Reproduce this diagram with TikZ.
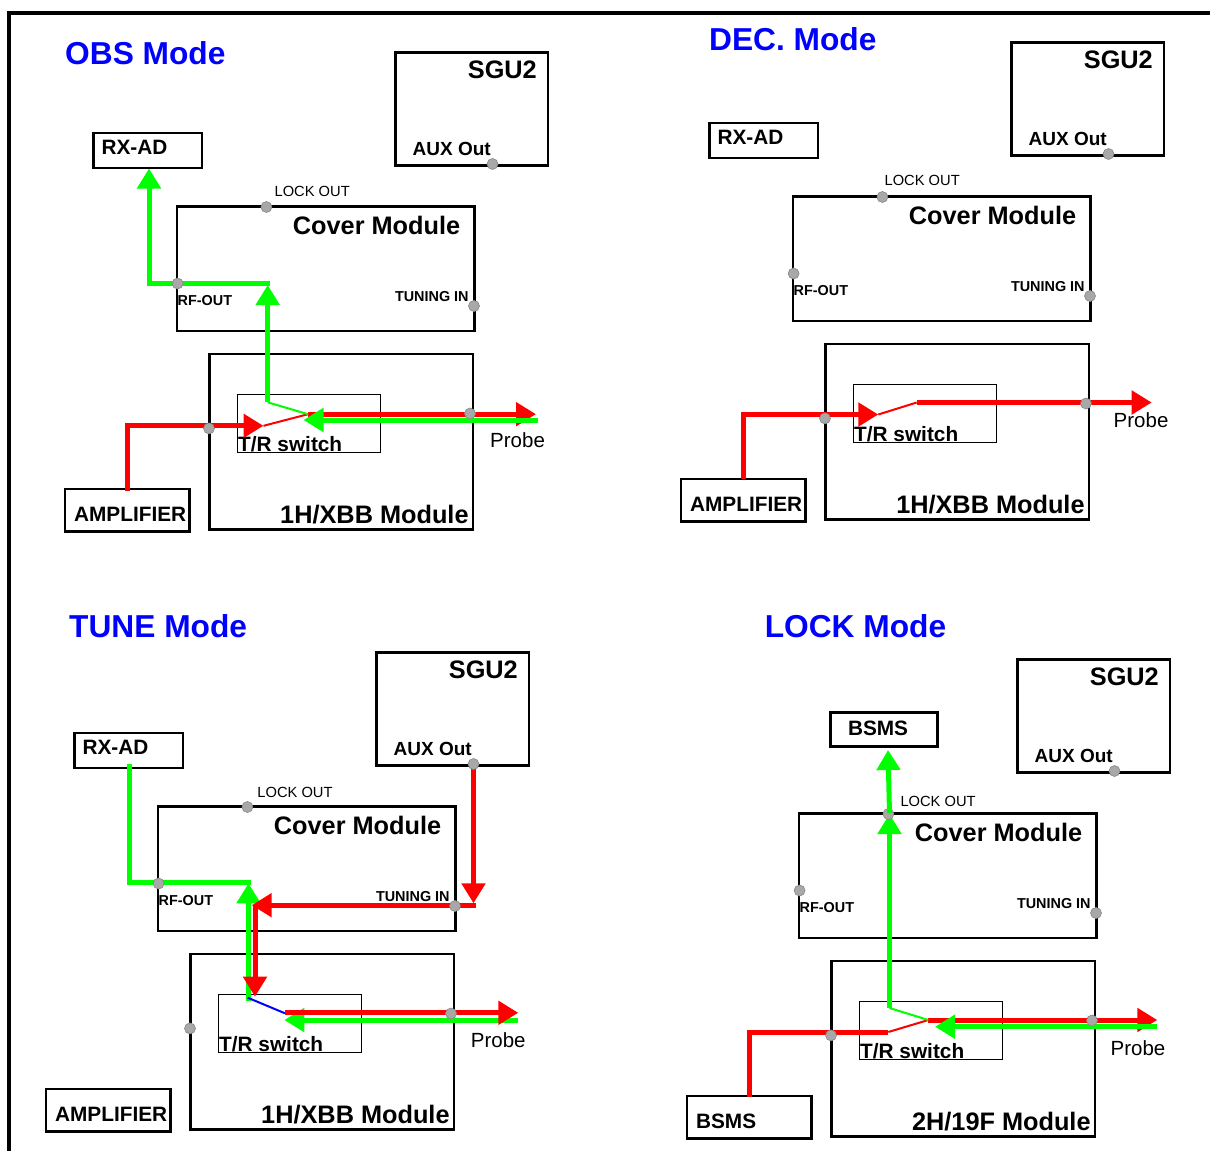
\documentclass[tikz,border=0pt]{standalone}
\usepackage{fontspec}
\setmainfont{Liberation Sans}
\usetikzlibrary{arrows.meta}
\definecolor{dotgray}{RGB}{168,168,168}
\definecolor{dotedge}{RGB}{135,135,135}
\definecolor{ttlblue}{RGB}{0,0,255}
\definecolor{lgreen}{RGB}{0,255,0}
\definecolor{lred}{RGB}{255,0,0}
\definecolor{lblue}{RGB}{0,0,255}

% box by corners: name, x1, y1, x2, y2, style
\newcommand\boxat[6]{%
  \node[#6, minimum width={(#4)-(#2)}, minimum height={(#5)-(#3)}] (#1)
    at ({((#2)+(#4))/2},{((#3)+(#5))/2}) {};}

% common parts of one quadrant (in OBS coordinates)
% #1 prefix, #2 module label, #3 probe label position, #4 lock-out label position
\newcommand\quadbase[4]{%
  \boxat{#1sgu}{395.5}{52.5}{548}{165.5}{boxst}
  \node[big, anchor=base east] (#1sgut) at (537,78) {SGU2};
  \node[auxt, anchor=base west] (#1auxt) at (412.5,155) {AUX Out};
  \boxat{#1cov}{177}{206.5}{474.5}{331}{boxst}
  \node[smr, anchor=base west] (#1lockt) at #4 {LOCK OUT};
  \node[big, anchor=base east] (#1covt) at (460.4,234.5) {Cover Module};
  \node[smb, anchor=base west] (#1rft) at (177.5,305.5) {RF-OUT};
  \node[smb, anchor=base east] (#1tunt) at (468.8,301) {TUNING IN};
  \boxat{#1mod}{209.3}{354}{473}{529.5}{boxst}
  \node[big, anchor=base east] (#1modt) at (468.8,523) {#2};
  \boxat{#1tr}{237.3}{394.5}{380.4}{452.4}{thinbox}
  \node[mid, anchor=base west] (#1trt) at (238,451.6) {T/R switch};
  \node[prb, anchor=base west] (#1prt) at #3 {Probe};
}
\newcommand\quadleft[1]{%
  \boxat{#1rx}{93.8}{133}{202}{168}{boxst}
  \node[mid, anchor=base west] (#1rxt) at (101.4,154.5) {RX-AD};
  \boxat{#1amp}{65}{489}{189.8}{531.6}{boxst}
  \node[mid, anchor=base west] (#1ampt) at (73.9,521.8) {AMPLIFIER};
}
\newcommand\quaddots[1]{%
  \node[dotst] (#1d-aux) at (492.5,164) {};
  \node[dotst] (#1d-lock) at (266.4,207) {};
  \node[dotst] (#1d-rf) at (177.6,283.5) {};
  \node[dotst] (#1d-tun) at (474,306) {};
  \node[dotst] (#1d-amp) at (209,428.4) {};
  \node[dotst] (#1d-prb) at (470,413.5) {};
}

\begin{document}
\begin{tikzpicture}[x=1pt,y=-1pt,
  boxst/.style={draw=black, line width=2.8pt, inner sep=0pt, outer sep=0pt},
  thinbox/.style={draw=black, line width=1pt, inner sep=0pt, outer sep=0pt},
  ttl/.style={inner sep=0pt, text=ttlblue, font=\fontsize{31.7}{36}\selectfont\bfseries},
  big/.style={inner sep=0pt, font=\fontsize{25.3}{30}\selectfont\bfseries},
  mid/.style={inner sep=0pt, font=\fontsize{20.8}{24}\selectfont\bfseries},
  auxt/.style={inner sep=0pt, font=\fontsize{19}{22}\selectfont\bfseries},
  smr/.style={inner sep=0pt, font=\fontsize{14.7}{17}\selectfont},
  smb/.style={inner sep=0pt, font=\fontsize{14.4}{17}\selectfont\bfseries},
  prb/.style={inner sep=0pt, font=\fontsize{20.5}{24}\selectfont},
  dotst/.style={circle, fill=dotgray, draw=dotedge, line width=0.6pt, minimum size=11pt, inner sep=0pt},
  rd/.style={draw=lred, line width=5pt},
  gr/.style={draw=lgreen, line width=5pt},
  thinr/.style={draw=lred, line width=2pt},
  thing/.style={draw=lgreen, line width=2pt},
  thinb/.style={draw=lblue, line width=2pt},
  tipa/.style={-{Triangle[length=20pt,width=23pt]}}
]
\useasboundingbox (0,0) rectangle (1210,1151);
\fill[white] (0,0) rectangle (1210,1151);

% frame
\draw[line width=4.5pt] (9.2,1151) -- (9.2,13) -- (1210,13);

% titles
\node[ttl, anchor=base west] (t-obs) at (65,64.7) {OBS Mode};
\node[ttl, anchor=base west] (t-dec) at (709,50) {DEC. Mode};
\node[ttl, anchor=base west] (t-tune) at (69,637.5) {TUNE Mode};
\node[ttl, anchor=base west] (t-lock) at (764.6,637.5) {LOCK Mode};

% quadrants
\begin{scope}
  \quadbase{o-}{1H/XBB Module}{(490,447.3)}{(274.4,196.4)}
  \quadleft{o-}
\end{scope}
\begin{scope}[shift={(616,-10)}]
  \quadbase{d-}{1H/XBB Module}{(497.5,437)}{(268.4,195.5)}
  \quadleft{d-}
\end{scope}
\begin{scope}[shift={(-19,600)}]
  \quadbase{u-}{1H/XBB Module}{(489.7,447)}{(276.2,197.4)}
  \quadleft{u-}
\end{scope}
\begin{scope}[shift={(622,607)}]
  \quadbase{l-}{2H/19F Module}{(488.4,448)}{(278.3,199.9)}
  \boxat{l-bs2}{65}{489}{189.8}{531.6}{boxst}
  \node[mid, anchor=base west] (l-bs2t) at (73.9,521.8) {BSMS};
\end{scope}
\boxat{l-bs1}{830.3}{712.2}{937.7}{746.4}{boxst}
\node[mid, anchor=base west] (l-bs1t) at (847.8,735.6) {BSMS};

% ---------- OBS signal paths ----------
\coordinate (o-r1) at (127.5,491);
\coordinate (o-r2) at (127.5,425.8);
\coordinate (o-r3) at (263.5,425.8);
\coordinate (o-r4) at (308,414.2);
\coordinate (o-r5) at (536,414.2);
\coordinate (o-g1) at (537.7,420);
\coordinate (o-g2) at (303.5,420);
\coordinate (o-g3) at (267.7,402.3);
\coordinate (o-g4) at (267.7,285);
\coordinate (o-g5) at (270.2,283);
\coordinate (o-g6) at (149,283);
\coordinate (o-g7) at (149,168.5);
\draw[rd,tipa] (o-r1) -- (o-r2) -- (o-r3);
\draw[thinr] (o-r3) -- (o-r4);
\draw[rd,tipa] (o-r4) -- (o-r5);
\draw[thing] (o-g3) -- (o-r4);
\draw[gr,tipa] (o-g1) -- (o-g2);
\draw[gr,tipa] (o-g3) -- (o-g4);
\draw[gr,tipa] (o-g5) -- (o-g6) -- (o-g7);

% ---------- DEC signal paths ----------
\coordinate (d-r1) at (743,479);
\coordinate (d-r2) at (743,414.5);
\coordinate (d-r3) at (878.3,414.5);
\coordinate (d-r4) at (916.7,402.5);
\coordinate (d-r5) at (1151.7,402.5);
\draw[rd,tipa] (d-r1) -- (d-r2) -- (d-r3);
\draw[thinr] (d-r3) -- (d-r4);
\draw[rd,tipa] (d-r4) -- (d-r5);

% ---------- TUNE signal paths ----------
\coordinate (u-g1) at (129,764);
\coordinate (u-g2) at (129,882.5);
\coordinate (u-g3) at (251,882.5);
\coordinate (u-g4) at (248.5,1000.7);
\coordinate (u-g5) at (248.5,883.3);
\coordinate (u-r1) at (473.5,765);
\coordinate (u-r2) at (473.5,903.3);
\coordinate (u-r3) at (476,905.2);
\coordinate (u-r4) at (251.7,905.2);
\coordinate (u-r5) at (255,905);
\coordinate (u-r6) at (255,996.7);
\coordinate (u-b1) at (247.7,997.7);
\coordinate (u-b2) at (285,1013.3);
\coordinate (u-r7) at (285,1012.8);
\coordinate (u-r8) at (518.3,1012.8);
\coordinate (u-g6) at (517.7,1020);
\coordinate (u-g7) at (284.3,1020);
\draw[gr] (u-g1) -- (u-g2) -- (u-g3);
\draw[gr,tipa] (u-g4) -- (u-g5);
\draw[rd,tipa] (u-r1) -- (u-r2);
\draw[rd,tipa] (u-r3) -- (u-r4);
\draw[rd,tipa] (u-r5) -- (u-r6);
\draw[thinb] (u-b1) -- (u-b2);
\draw[gr,tipa] (u-g6) -- (u-g7);
\draw[rd,tipa] (u-r7) -- (u-r8);

% ---------- LOCK signal paths ----------
\coordinate (l-r1) at (749.2,1097);
\coordinate (l-r2) at (749.2,1032);
\coordinate (l-r3) at (888.3,1032);
\coordinate (l-r4) at (928.3,1020);
\coordinate (l-r5) at (1157.3,1020);
\coordinate (l-g1) at (1156.7,1026.7);
\coordinate (l-g2) at (935,1026.7);
\coordinate (l-g3) at (889.5,1008);
\coordinate (l-g4) at (889.5,814);
\coordinate (l-g5) at (889.5,813);
\coordinate (l-g6) at (888,750);
\draw[rd] (l-r1) -- (l-r2) -- (l-r3);
\draw[thinr] (l-r3) -- (l-r4);
\draw[rd,tipa] (l-r4) -- (l-r5);
\draw[thing] (l-g3) -- (l-r4);
\draw[gr,tipa] (l-g1) -- (l-g2);
\draw[gr,tipa] (l-g3) -- (l-g4);

% connection dots
\begin{scope}
  \quaddots{o-}
\end{scope}
\begin{scope}[shift={(616,-10)}]
  \quaddots{d-}
\end{scope}
\begin{scope}[shift={(-19,600)}]
  \quaddots{u-}
\end{scope}
\begin{scope}[shift={(622,607)}]
  \quaddots{l-}
\end{scope}
\draw[gr,tipa] (l-g5) -- (l-g6);
\end{tikzpicture}
\end{document}
